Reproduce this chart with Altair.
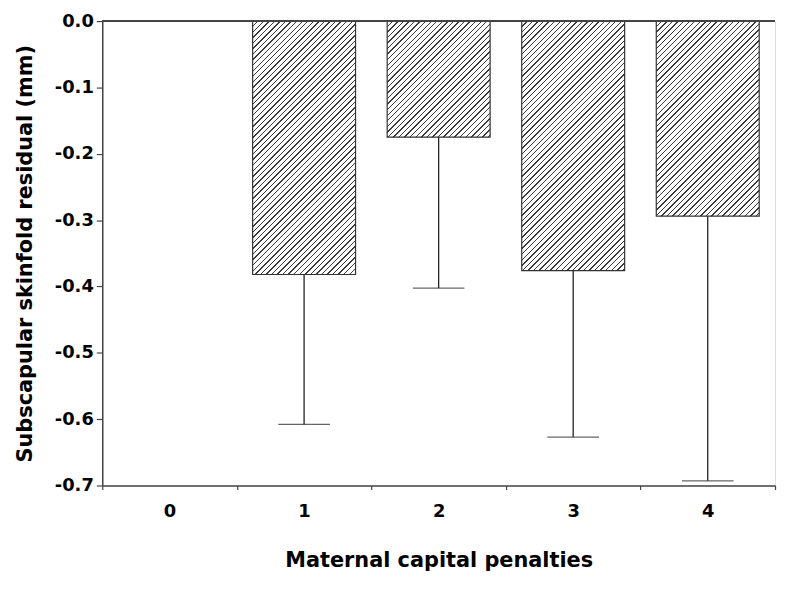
import altair as alt
import pandas as pd

# ---- data ----
categories = ["0", "1", "2", "3", "4"]
means = [0.0, -0.382, -0.175, -0.376, -0.294]
lower = [0.0, -0.608, -0.4025, -0.627, -0.693]

x_title = "Maternal capital penalties"
y_title = "Subscapular skinfold residual (mm)"
y_domain = [-0.7, 0.0]
y_ticks = [0.0, -0.05, -0.1, -0.15, -0.2, -0.25, -0.3, -0.35, -0.4,
           -0.45, -0.5, -0.55, -0.6, -0.65, -0.7]

# ---- layout / style ----
PLOT_W, PLOT_H = 678, 468
BAR_FRAC = 0.765
FONT = "DejaVu Sans"
AXIS_COLOR = "#444444"
INK = "#333333"

df = pd.DataFrame({"cat": categories, "mean": means, "low": lower})

px_per_unit = PLOT_H / (y_domain[1] - y_domain[0])
bar_w = PLOT_W / len(categories) * BAR_FRAC


def hatch(h_px, period=5.6, thick=1.4, color="#3a3a3a"):
    """Diagonal '/' hatching as a striped linear gradient (style only)."""
    W, H = bar_w, max(h_px, 1.0)
    a = (1 / H + 1 / W) / (1 / H ** 2 + 1 / W ** 2)
    span = W + H
    stops = [{"offset": 0, "color": "white"}]
    k = 1
    while k * period + thick / 2 < span:
        s = (k * period - thick / 2) / span
        e = (k * period + thick / 2) / span
        stops += [{"offset": s, "color": "white"}, {"offset": s, "color": color},
                  {"offset": e, "color": color}, {"offset": e, "color": "white"}]
        k += 1
    stops.append({"offset": 1, "color": "white"})
    return {"gradient": "linear", "x1": 0, "y1": 0, "x2": a / H, "y2": a / W,
            "stops": stops}


major_test = "abs(datum.value*10 - round(datum.value*10)) < 0.001"

x_enc = alt.X(
    "cat:N",
    sort=categories,
    scale=alt.Scale(domain=categories, paddingInner=0, paddingOuter=0),
    axis=alt.Axis(
        title=x_title, labelAngle=0, tickBand="extent", tickSize=4,
        tickColor=AXIS_COLOR, tickWidth=1.2, domainColor=AXIS_COLOR, domainWidth=1.5,
        labelFont=FONT, labelFontWeight="bold", labelFontSize=18, labelColor="black",
        labelPadding=13, titleFont=FONT, titleFontWeight="bold", titleFontSize=21,
        titleColor="black", titlePadding=30, grid=False,
    ),
)

y_scale = alt.Scale(domain=y_domain, nice=False, zero=False)
y_axis = alt.Axis(
    title=y_title, values=y_ticks,
    labelExpr=f"{major_test} ? (datum.value < 0 ? '-' + format(abs(datum.value), '.1f') : format(datum.value, '.1f')) : ''",
    tickSize={"condition": {"test": major_test, "value": 6}, "value": 3},
    tickColor=AXIS_COLOR, tickWidth=1.2, domainColor=AXIS_COLOR, domainWidth=1.5,
    labelFont=FONT, labelFontWeight="bold", labelFontSize=18, labelColor="black",
    labelPadding=3, titleFont=FONT, titleFontWeight="bold", titleFontSize=21,
    titleColor="black", titlePadding=19, grid=False,
)

base = alt.Chart(df)

layers = []
for c, m in zip(categories, means):
    if m == 0:
        continue
    layers.append(
        base.transform_filter(alt.datum.cat == c)
        .mark_bar(fill=hatch(abs(m) * px_per_unit), stroke=INK, strokeWidth=1.2,
                  width=alt.RelativeBandSize(BAR_FRAC))
        .encode(x=x_enc, y=alt.Y("mean:Q", scale=y_scale, axis=y_axis))
    )

err = base.mark_rule(color="#222222", strokeWidth=1.3).encode(
    x=x_enc, y=alt.Y("mean:Q", scale=y_scale, axis=y_axis), y2="low:Q"
)
caps = base.mark_tick(color="#222222", size=52, thickness=1.3).encode(
    x=x_enc, y=alt.Y("low:Q", scale=y_scale, axis=y_axis)
)
zero = base.mark_rule(color=AXIS_COLOR, strokeWidth=1.5).encode(y=alt.datum(0))

chart = (
    alt.layer(*layers, err, caps, zero)
    .properties(
        width=PLOT_W, height=PLOT_H,
        autosize=alt.AutoSizeParams(type="none"),
        padding={"left": 95, "top": 11, "right": 2, "bottom": 87},
    )
    .configure_view(strokeWidth=0)
    .configure(background="white")
)

chart.save("out.html", embed_options={"renderer": "svg", "actions": False})
